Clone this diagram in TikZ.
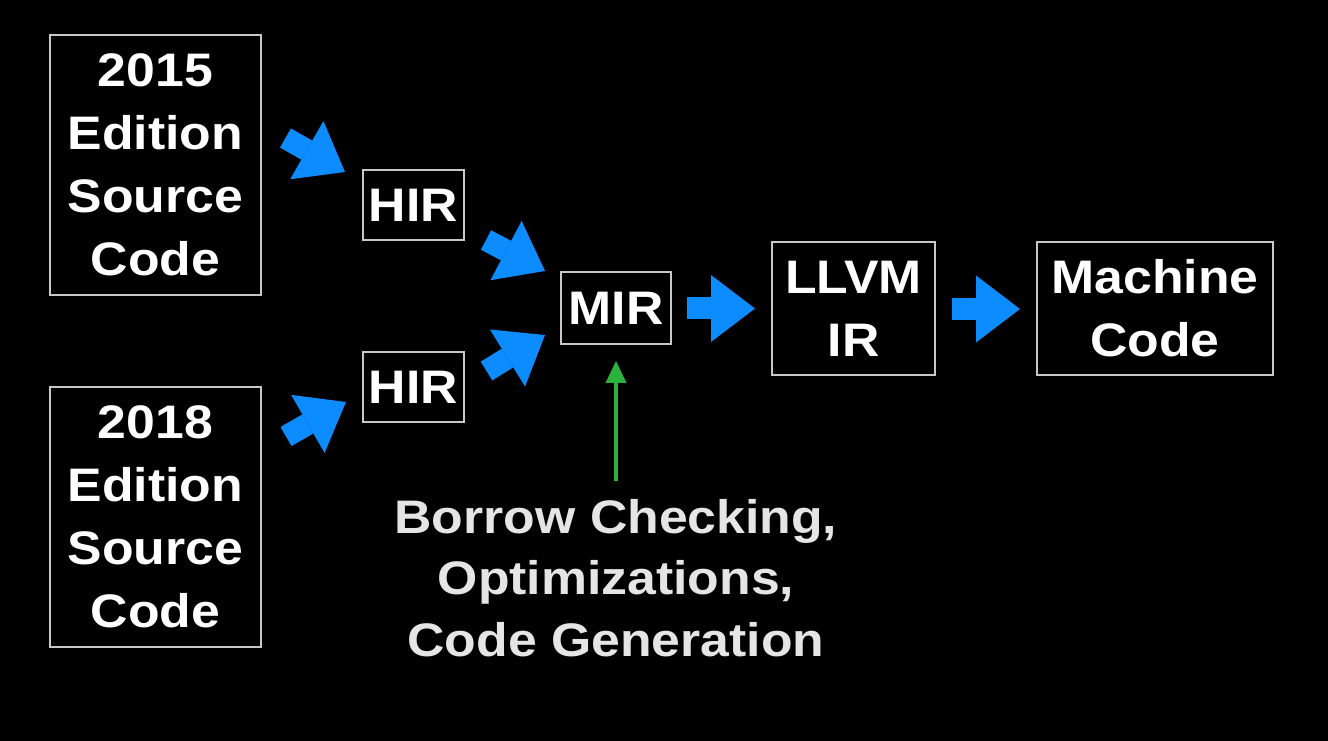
\documentclass[tikz,border=0pt]{standalone}
\usepackage{fontspec}
\setmainfont{Liberation Sans}[FakeStretch=1.1]
\usetikzlibrary{arrows.meta}
\definecolor{flowblue}{RGB}{12,140,255}
\definecolor{checkgreen}{RGB}{44,178,60}
\definecolor{boxline}{RGB}{200,200,200}

\begin{document}
\begin{tikzpicture}[x=1in,y=1in,
  stage/.style={draw=boxline, line width=1.4pt, text=white, align=center, inner sep=0pt,
    font=\bfseries\fontsize{34}{45.4}\selectfont},
  flow/.style={flowblue, line width=0.22in, -{Triangle[width=0.67in,length=0.44in,line width=0pt]}},
  check/.style={checkgreen, line width=3.6pt, -{Triangle[width=0.21in,length=0.22in,line width=0pt]}},
  note/.style={text=white!90!black, align=center, inner sep=0pt,
    font=\bfseries\fontsize{34}{44.6}\selectfont}]
\fill[black] (0,0) rectangle (13.28,7.41);
\useasboundingbox (0,0) rectangle (13.28,7.41);
\node[stage, minimum width=2.11in, minimum height=2.60in] (src15) at (1.5550,5.7600) {2015\\Edition\\Source\\Code};
\node[stage, minimum width=2.11in, minimum height=2.60in] (src18) at (1.5550,2.2400) {2018\\Edition\\Source\\Code};
\node[stage, minimum width=1.01in, minimum height=0.70in] (hir15) at (4.1350,5.3600) {HIR};
\node[stage, minimum width=1.01in, minimum height=0.70in] (hir18) at (4.1350,3.5400) {HIR};
\node[stage, minimum width=1.10in, minimum height=0.72in] (mir) at (6.1600,4.3300) {MIR};
\node[stage, minimum width=1.63in, minimum height=1.33in] (llvm) at (8.5350,4.3250) {LLVM\\IR};
\node[stage, minimum width=2.36in, minimum height=1.33in] (mcode) at (11.5500,4.3250) {Machine\\Code};
\node[note] (passes) at (6.1600,1.6300) {Borrow Checking,\\Optimizations,\\Code Generation};
\coordinate (f1a) at (2.8550,6.0300); \coordinate (f1b) at (3.4500,5.6900);
\coordinate (f2a) at (4.8600,5.0100); \coordinate (f2b) at (5.4500,4.7000);
\coordinate (f3a) at (4.8650,3.7000); \coordinate (f3b) at (5.4500,4.0600);
\coordinate (f4a) at (2.8600,3.0450); \coordinate (f4b) at (3.4600,3.3900);
\coordinate (f5a) at (6.8700,4.3250); \coordinate (f5b) at (7.5500,4.3250);
\coordinate (f6a) at (9.5200,4.3200); \coordinate (f6b) at (10.2000,4.3200);
\draw[flow] (f1a) -- (f1b);
\draw[flow] (f2a) -- (f2b);
\draw[flow] (f3a) -- (f3b);
\draw[flow] (f4a) -- (f4b);
\draw[flow] (f5a) -- (f5b);
\draw[flow] (f6a) -- (f6b);
\draw[check, shorten <=0.18in, shorten >=0.16in] (passes.north -| mir.south) -- (mir.south);
\end{tikzpicture}
\end{document}
